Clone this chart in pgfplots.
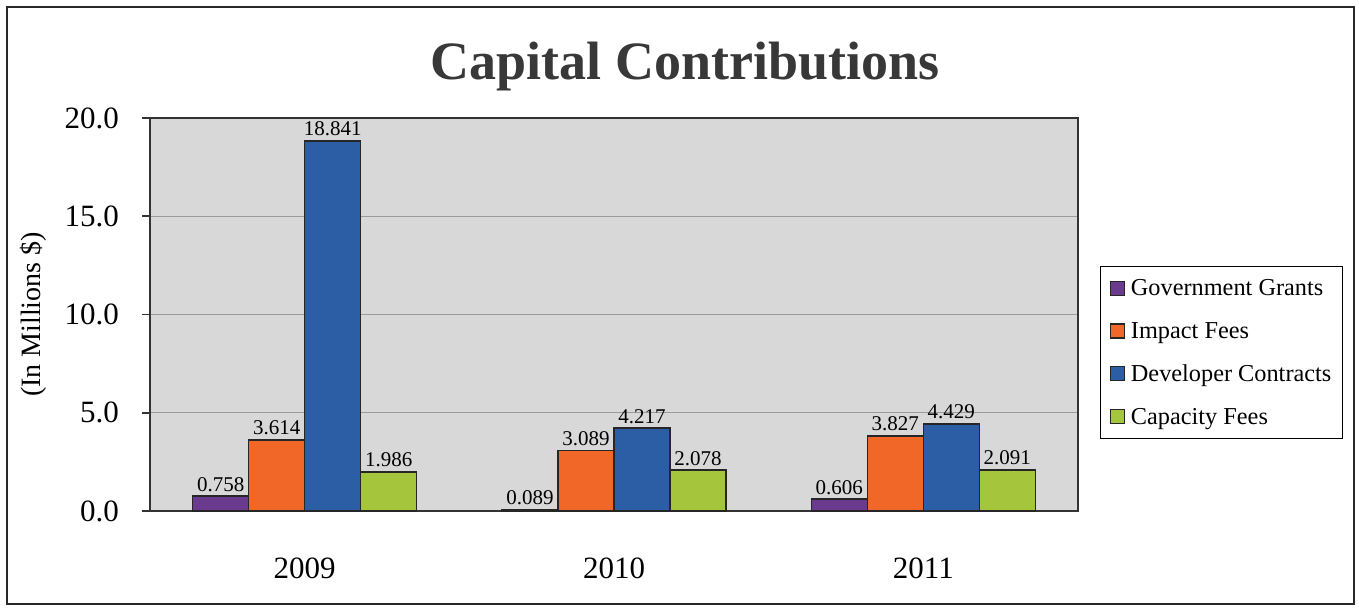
\documentclass[border=0pt]{standalone}
\usepackage{fontspec}
\setmainfont{Liberation Serif}
\usepackage{pgfplots}
\pgfplotsset{compat=1.18}
\pgfkeys{/pgf/number format/assume math mode=true}
\definecolor{gg}{RGB}{106,58,142}
\definecolor{imp}{RGB}{240,103,40}
\definecolor{dev}{RGB}{44,94,166}
\definecolor{cap}{RGB}{165,198,60}
\definecolor{bgg}{RGB}{216,216,216}
\definecolor{gridc}{RGB}{155,155,155}
\definecolor{titlec}{RGB}{56,56,56}
\definecolor{framec}{RGB}{40,40,40}
\begin{document}
\begin{tikzpicture}[x=1pt,y=1pt]
\path[use as bounding box] (0,0) rectangle (1359,608);
\fill[white] (0,0) rectangle (1359,608);
\draw[line width=2.5pt, color=framec] (7,4) rectangle (1354,601);
\node[anchor=base, font=\bfseries\fontsize{54}{60}\selectfont, text=titlec, inner sep=0pt] at (685,528) {Capital Contributions};
\begin{axis}[
  at={(150pt,97pt)}, anchor=south west,
  scale only axis, width=928pt, height=393pt,
  ybar=0pt, bar width=56pt,
  xmin=-0.5, xmax=2.5, ymin=0, ymax=20,
  xtick={0,1,2}, xticklabels={2009,2010,2011},
  ytick={0,5,10,15,20}, yticklabels={0.0,5.0,10.0,15.0,20.0},
  xtick style={draw=none},
  ytick pos=left,
  ytick align=outside, major tick length=8pt,
  ytick style={line width=1.5pt, color=black!80},
  tick label style={font=\fontsize{31}{34}\selectfont},
  yticklabel style={anchor=east, inner sep=0pt, xshift=-23pt},
  xticklabel style={anchor=base, inner sep=0pt, yshift=-59pt},
  ymajorgrids, grid style={gridc, line width=1.2pt},
  axis background/.style={fill=bgg},
  axis line style={line width=1.8pt, color=black!80},
  ylabel={(In Millions \$)},
  ylabel style={at={(axis description cs:-0.126,0.5)}, anchor=center, font=\fontsize{28}{30}\selectfont},
  every axis plot/.append style={draw=black!85, line width=1.5pt},
  nodes near coords={\pgfmathprintnumber[fixed,fixed zerofill,precision=3]{\pgfplotspointmeta}},
  nodes near coords style={anchor=south, inner sep=0pt, yshift=4pt, font=\fontsize{21}{23}\selectfont, text=black},
  legend cell align=left,
  legend image code/.code={\draw[#1,line width=1.3pt] (0pt,-7pt) rectangle (14pt,7pt);},
  legend style={at={(axis description cs:1.0237,0.6234)}, anchor=north west, draw=black, line width=1.3pt,
     font=\fontsize{24.3}{26}\selectfont, row sep=23pt, column sep=4pt, inner xsep=9pt, inner ysep=12pt,
     nodes={inner xsep=2pt, inner ysep=1pt}},
]
\addplot[fill=gg] coordinates {(0,0.758) (1,0.089) (2,0.606)};
\addplot[fill=imp] coordinates {(0,3.614) (1,3.089) (2,3.827)};
\addplot[fill=dev] coordinates {(0,18.841) (1,4.217) (2,4.429)};
\addplot[fill=cap] coordinates {(0,1.986) (1,2.078) (2,2.091)};
\legend{Government Grants, Impact Fees, Developer Contracts, Capacity Fees}
\end{axis}
\end{tikzpicture}
\end{document}
